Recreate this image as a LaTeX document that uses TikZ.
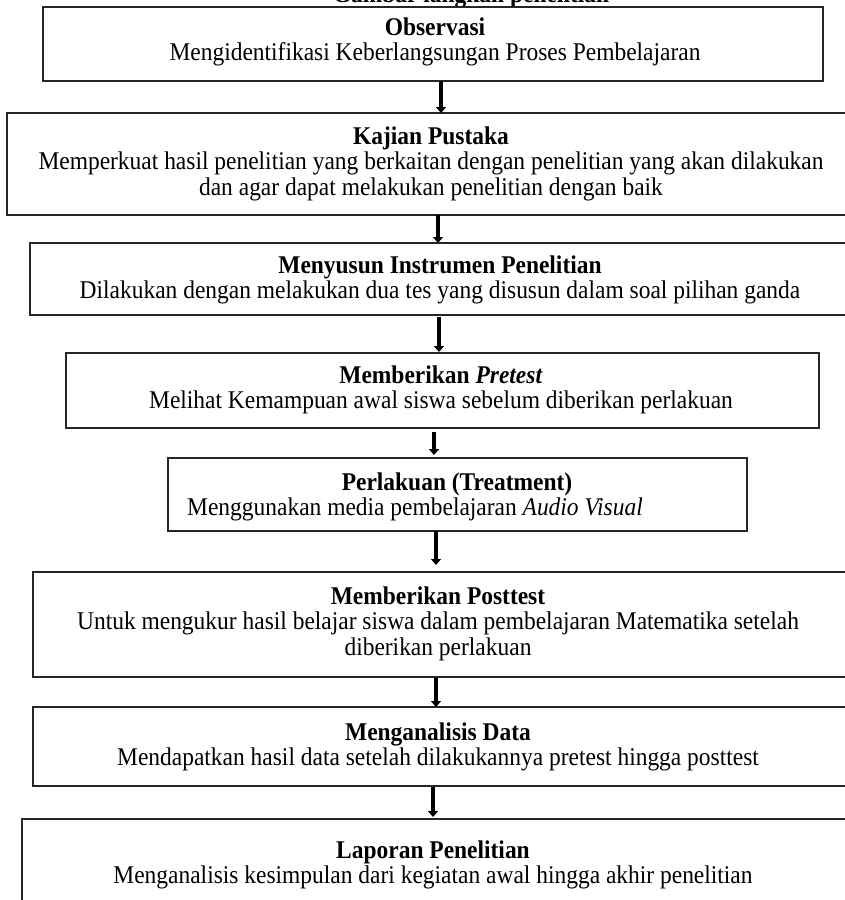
\documentclass[tikz,border=0pt]{standalone}
\usepackage{fontspec}
\setmainfont{Liberation Serif}[FakeStretch=0.92]
\usetikzlibrary{arrows.meta}
\tikzset{
  box/.style={draw=black!85, line width=1.5pt, rectangle, inner sep=0pt, outer sep=0pt, anchor=north west},
  txt/.style={align=center, inner sep=0pt, anchor=base, font=\fontsize{25.5}{25.5}\selectfont},
  arr/.style={line width=4pt, -{Triangle[width=10pt,length=6pt]}},
}
\begin{document}
\begin{tikzpicture}[x=1pt,y=-1pt]
\useasboundingbox (0,0) rectangle (845,900);
\clip (0,0) rectangle (845,900);
% title (cut off at the top)
\node[txt, font=\fontsize{25.5}{25.5}\selectfont\bfseries] (ttl) at (471,2) {Gambar langkah penelitian};
% boxes
\node[box, minimum width=780pt, minimum height=74pt] (b1) at (43,7) {};
\node[box, minimum width=848pt, minimum height=102pt] (b2) at (7,113) {};
\node[box, minimum width=820pt, minimum height=72pt] (b3) at (30,243) {};
\node[box, minimum width=753pt, minimum height=75pt] (b4) at (66,353) {};
\node[box, minimum width=579pt, minimum height=73pt] (b5) at (168,458) {};
\node[box, minimum width=817pt, minimum height=105pt] (b6) at (33,572) {};
\node[box, minimum width=817pt, minimum height=79pt] (b7) at (33,707) {};
\node[box, minimum width=833pt, minimum height=101pt] (b8) at (22,819) {};
% texts (anchor = baseline of the last line)
\node[txt] (t1) at (435,60.5) {\textbf{Observasi}\\Mengidentifikasi Keberlangsungan Proses Pembelajaran};
\node[txt] (t2) at (431,195) {\textbf{Kajian Pustaka}\\Memperkuat hasil penelitian yang berkaitan dengan penelitian yang akan dilakukan\\dan agar dapat melakukan penelitian dengan baik};
\node[txt] (t3) at (440,298.5) {\textbf{Menyusun Instrumen Penelitian}\\Dilakukan dengan melakukan dua tes yang disusun dalam soal pilihan ganda};
\node[txt] (t4) at (441,408.5) {\textbf{Memberikan \textit{Pretest}}\\Melihat Kemampuan awal siswa sebelum diberikan perlakuan};
\node[txt] (t5) at (457,490) {\textbf{Perlakuan (Treatment)}};
\node[txt, anchor=base west] (t5b) at (187,515.5) {Menggunakan media pembelajaran \textit{Audio Visual}};
\node[txt] (t6) at (438,655) {\textbf{Memberikan Posttest}\\Untuk mengukur hasil belajar siswa dalam pembelajaran Matematika setelah\\diberikan perlakuan};
\node[txt] (t7) at (438,765.5) {\textbf{Menganalisis Data}\\Mendapatkan hasil data setelah dilakukannya pretest hingga posttest};
\node[txt] (t8) at (433,883.5) {\textbf{Laporan Penelitian}\\Menganalisis kesimpulan dari kegiatan awal hingga akhir penelitian};
% arrows
\draw[arr] ([xshift=8pt]b1.south) -- ([xshift=8pt]b1.south |- b2.north);
\draw[arr] ([xshift=7pt]b2.south) -- ([xshift=7pt]b2.south |- b3.north);
\draw[arr, shorten <=2pt, shorten >=1pt] ([xshift=-1pt]b3.south) -- ([xshift=-1pt]b3.south |- b4.north);
\draw[arr, shorten <=4pt, shorten >=3pt] ([xshift=-8.5pt]b4.south) -- ([xshift=-8.5pt]b4.south |- b5.north);
\draw[arr, shorten >=7pt] ([xshift=-21.5pt]b5.south) -- ([xshift=-21.5pt]b5.south |- b6.north);
\draw[arr, shorten <=1pt] ([xshift=-5.5pt]b6.south) -- ([xshift=-5.5pt]b6.south |- b7.north);
\draw[arr, shorten <=1pt, shorten >=2pt] ([xshift=-8.5pt]b7.south) -- ([xshift=-8.5pt]b7.south |- b8.north);
\end{tikzpicture}
\end{document}
